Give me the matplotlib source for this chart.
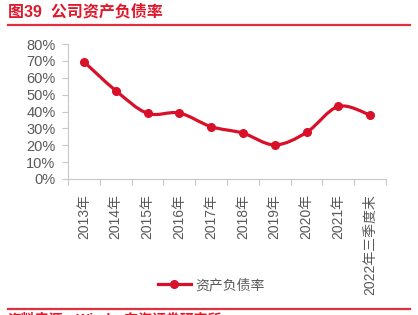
import matplotlib
matplotlib.use('Agg')
import matplotlib.pyplot as plt
from matplotlib.path import Path
from matplotlib.patches import PathPatch
from matplotlib.lines import Line2D
from matplotlib.ticker import FuncFormatter
import numpy as np

plt.rcParams['font.family'] = ['Liberation Sans', 'Noto Sans CJK SC', 'DejaVu Sans']

categories = ['2013年', '2014年', '2015年', '2016年', '2017年', '2018年',
              '2019年', '2020年', '2021年', '2022年三季度末']
ratio = [0.695, 0.524, 0.389, 0.391, 0.310, 0.272, 0.202, 0.276, 0.430, 0.379]
series_name = '资产负债率'
title = '图39  公司资产负债率'
source = '资料来源：Wind，东海证券研究所'

red = '#D8102A'
grey = '#595959'
axis_grey = '#C8C8C8'

fig = plt.figure(figsize=(4.18, 3.15), dpi=100)
ax = fig.add_axes([68 / 418, 1 - 179 / 315, (386 - 68) / 418, (179 - 44) / 315])

# smoothed line (bezier segments through the data points)
x = np.arange(len(ratio))
y = np.array(ratio)
verts = [(x[0], y[0])]
codes = [Path.MOVETO]
for i in range(len(x) - 1):
    p0 = np.array([x[max(i - 1, 0)], y[max(i - 1, 0)]])
    p1 = np.array([x[i], y[i]])
    p2 = np.array([x[i + 1], y[i + 1]])
    p3 = np.array([x[min(i + 2, len(x) - 1)], y[min(i + 2, len(x) - 1)]])
    c1 = p1 + (p2 - p0) / 6
    c2 = p2 - (p3 - p1) / 6
    verts += [tuple(c1), tuple(c2), tuple(p2)]
    codes += [Path.CURVE4] * 3
ax.add_patch(PathPatch(Path(verts, codes), facecolor='none', edgecolor=red,
                       lw=2.3, capstyle='round', joinstyle='round', zorder=3))
ax.plot(x, y, ls='none', marker='o', ms=5.5, color=red, zorder=4)

ax.set_xlim(-0.5, len(x) - 0.5)
ax.set_ylim(0, 0.8)
ax.set_yticks(np.arange(0, 0.81, 0.1))
ax.yaxis.set_major_formatter(FuncFormatter(lambda v, p: f'{v * 100:.0f}%'))

ax.set_xticks(np.arange(len(x) + 1) - 0.5)
ax.set_xticklabels([])
ax.set_xticks(x, minor=True)
ax.set_xticklabels(categories, minor=True, rotation=90)
ax.tick_params(axis='x', which='minor', length=0, pad=11, labelsize=10, labelcolor=grey)
ax.tick_params(axis='x', which='major', length=4, color=axis_grey, width=0.8)
ax.tick_params(axis='y', length=4, color=axis_grey, width=0.8, labelsize=10.5,
               labelcolor=grey, pad=5)

for s in ['top', 'right']:
    ax.spines[s].set_visible(False)
for s in ['left', 'bottom']:
    ax.spines[s].set_color(axis_grey)
    ax.spines[s].set_linewidth(0.8)

handle = Line2D([], [], color=red, lw=2.3, marker='o', ms=5.5)
fig.legend([handle], [series_name], loc='center', bbox_to_anchor=(0.505, 1 - 285 / 315),
           frameon=False, handlelength=2.4, handletextpad=0.3, labelcolor=grey,
           prop={'family': ['Noto Sans CJK SC'], 'size': 10})

# header / footer
fig.text(8 / 418, 1 - 12 / 315, title, color='#E0182B', fontsize=11.5, fontweight='bold',
         va='center', ha='left', family=['Liberation Sans', 'Noto Sans CJK SC'])
fig.add_artist(Line2D([8 / 418, 410 / 418], [1 - 24.5 / 315] * 2, color='#E0303F', lw=1.6))
fig.add_artist(Line2D([8 / 418, 410 / 418], [1 - 308.5 / 315] * 2, color='#E0303F', lw=1.6))
fig.text(8 / 418, 1 - 312 / 315, source, color='#E0182B', fontsize=10, fontweight='bold',
         va='top', ha='left', family=['Liberation Sans', 'Noto Sans CJK SC'])

fig.savefig('out.png', dpi=100)
